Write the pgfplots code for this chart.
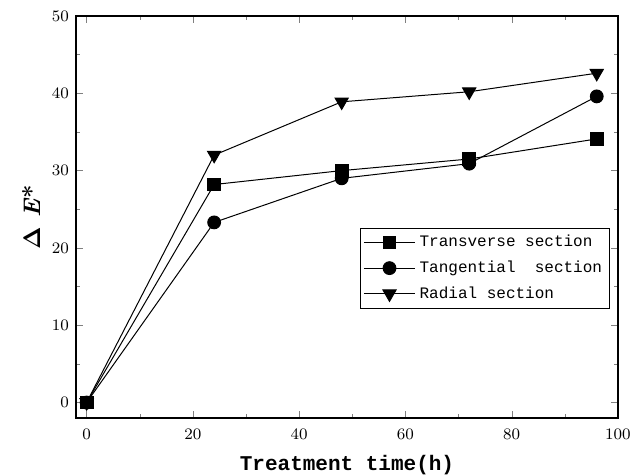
\documentclass[border=0pt]{standalone}
\usepackage{fontspec}
\usepackage{amsmath}
\usepackage{pgfplots}
\pgfplotsset{compat=1.18}
\usetikzlibrary{calc}
\newfontfamily\monofont{Liberation Mono}

\begin{document}
\begin{tikzpicture}
\begin{axis}[
  scale only axis,
  width=271pt, height=201pt,
  xmin=-2, xmax=100, ymin=-2, ymax=50,
  xtick={0,20,...,100}, ytick={0,10,...,50},
  minor x tick num=1, minor y tick num=1,
  tick align=inside,
  major tick length=3.5pt, minor tick length=2pt,
  tick label style={font=\fontsize{8.5}{10}\selectfont},
  xticklabel style={yshift=-2pt},
  axis line style={line width=0.7pt},
  xlabel={\monofont\bfseries Treatment time(h)},
  ylabel={\bfseries $\boldsymbol{\Delta}$ \textit{E}*},
  xlabel style={font=\fontsize{10.5}{12}\selectfont, yshift=-1pt},
  ylabel style={font=\fontsize{12}{14}\selectfont, yshift=-1pt},
  legend style={at={(0.524,0.473)}, anchor=north west, draw=black,
    font=\monofont\fontsize{8}{9.5}\selectfont, inner sep=1.5pt,
    row sep=1.5pt, cells={anchor=west}},
  legend cell align=left,
  legend image code/.code={
    \draw[mark repeat=2,mark phase=2] plot coordinates {(0cm,0cm)(0.45cm,0cm)(0.9cm,0cm)};},
  every axis plot/.append style={black, line width=0.5pt},
]
\addplot[mark=square*, mark size=3.2pt, mark options={fill=black}] coordinates {
 (0,0)(24,28.2)(48,30.0)(72,31.5)(96,34.1)};
\addlegendentry{Transverse section}
\addplot[mark=*, mark size=3.2pt, mark options={fill=black}] coordinates {
 (0,0)(24,23.3)(48,29.0)(72,30.9)(96,39.6)};
\addlegendentry{Tangential\ \ section}
\addplot[mark=triangle*, mark size=3.8pt, mark options={fill=black, rotate=180}] coordinates {
 (0,0)(24,32.0)(48,38.9)(72,40.2)(96,42.6)};
\addlegendentry{Radial section}
\coordinate (o) at (rel axis cs:0,0);
\end{axis}
\pgfresetboundingbox
\path ($(o)+(-38pt,-28.5pt)$) rectangle ($(o)+(278.5pt,209pt)$);
\end{tikzpicture}
\end{document}
